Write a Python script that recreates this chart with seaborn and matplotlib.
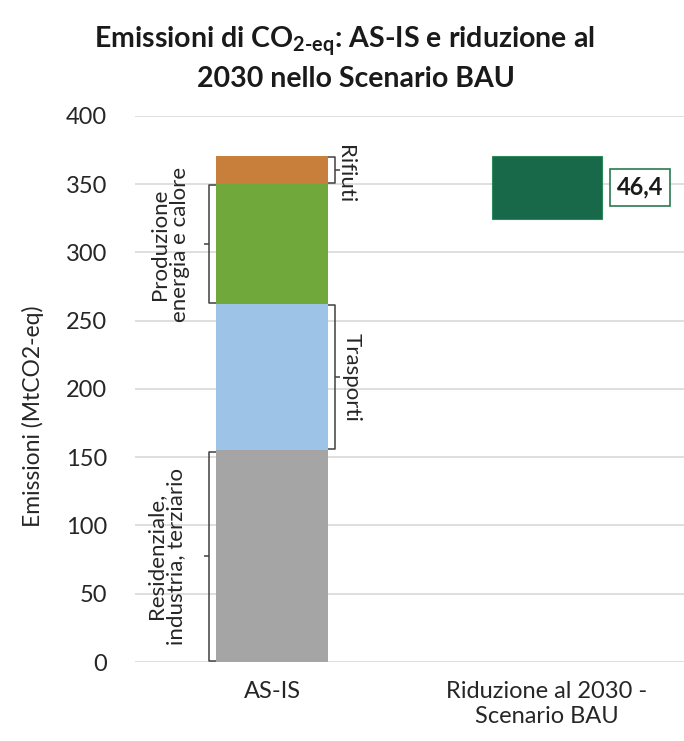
import matplotlib
matplotlib.use("Agg")
import matplotlib.pyplot as plt
import seaborn as sns
import pandas as pd
import numpy as np

categories = ["AS-IS", "Riduzione al 2030 -\nScenario BAU"]
segments = ["Residenziale,\nindustria, terziario", "Trasporti",
            "Produzione\nenergia e calore", "Rifiuti"]
segment_values = [155, 107, 88, 21]
segment_colors = ["#a5a5a5", "#9dc3e6", "#70a83c", "#c87f3c"]
reduction_value = 46.4
reduction_label = "46,4"
yticks = [0, 50, 100, 150, 200, 250, 300, 350, 400]

sns.set_theme(style="white")
plt.rcParams["font.family"] = ["Lato", "DejaVu Sans"]
plt.rcParams["mathtext.fontset"] = "custom"
plt.rcParams["mathtext.rm"] = "Lato:bold"
plt.rcParams["mathtext.bf"] = "Lato:bold"
plt.rcParams["mathtext.it"] = "Lato:bold"
plt.rcParams["mathtext.default"] = "bf"

fig = plt.figure(figsize=(6.84, 7.41), dpi=100)
ax = fig.add_axes([0.197, 0.1066, 0.803, 0.7369])

cum = np.cumsum(segment_values)
total = cum[-1]
bar_w = 0.41
# stacked AS-IS bar: draw from tallest to shortest
for i in range(len(segments) - 1, -1, -1):
    df = pd.DataFrame({"cat": [categories[0]], "val": [cum[i]]})
    sns.barplot(data=df, x="cat", y="val", order=categories, color=segment_colors[i],
                saturation=1, width=bar_w, ax=ax, zorder=3, linewidth=0)

# floating reduction bar
df_red = pd.DataFrame({"cat": [categories[1]], "val": [reduction_value]})
sns.barplot(data=df_red, x="cat", y="val", order=categories, color="#17694a",
            saturation=1, width=0.40, ax=ax, zorder=3, linewidth=0.8,
            edgecolor="#2a8a5c", bottom=total - reduction_value)

ax.set_xlim(-0.5, 1.5)
ax.set_ylim(0, 400)
ax.set_yticks(yticks)
ax.yaxis.grid(True, color="#d9d9d9", linewidth=1.2, zorder=0)
ax.set_axisbelow(True)
for s in ax.spines.values():
    s.set_visible(False)
ax.tick_params(axis="both", length=0, labelsize=17, colors="#262626")
ax.tick_params(axis="y", pad=20)
ax.tick_params(axis="x", pad=14)
ax.set_xlabel("")
ax.set_ylabel("Emissioni (MtCO2-eq)", fontsize=16.5, color="#262626", labelpad=12)
ax.yaxis.set_label_coords(-0.165, 0.45)

# brackets
def bracket(y0, y1, side):
    if side == "left":
        xb, xe, xt = -0.228, -0.205, -0.248
    else:
        xb, xe, xt = 0.228, 0.205, 0.248
    kw = dict(color="#404040", lw=1.1, zorder=4, solid_capstyle="butt")
    ax.plot([xe, xb, xb, xe], [y0 + 0.8, y0 + 0.8, y1 - 0.8, y1 - 0.8], **kw)
    ym = (y0 + y1) / 2
    ax.plot([xb, xt], [ym, ym], **kw)

bottoms = [0] + list(cum[:-1])
sides = ["left", "right", "left", "right"]
label_x = [-0.387, 0.29, -0.37, 0.264]
label_dy = [0, 0, 0, -3]
for seg, b, t, side, lx, dy in zip(segments, bottoms, cum, sides, label_x, label_dy):
    bracket(b, t, side)
    ym = (b + t) / 2 + dy
    rot = 90 if side == "left" else 270
    ax.text(lx, ym, seg, rotation=rot, ha="center", va="center",
            fontsize=16, color="#262626", linespacing=1.0, multialignment="center")

# reduction label box
ax.text(1.34, total - reduction_value / 2, reduction_label, ha="center", va="center",
        fontsize=17, fontweight="bold", color="#1a1a1a", zorder=5,
        bbox=dict(boxstyle="square,pad=0.3", facecolor="white", edgecolor="#2a7a50", lw=1.2))

fig.text(0.503, 0.945, r"Emissioni di CO$_{2\text{-}eq}$: AS-IS e riduzione al",
         ha="center", va="center", fontsize=20.5, fontweight="bold", color="#1a1a1a")
fig.text(0.52, 0.893, "2030 nello Scenario BAU",
         ha="center", va="center", fontsize=20.5, fontweight="bold", color="#1a1a1a")

fig.savefig("out.png", dpi=100)
